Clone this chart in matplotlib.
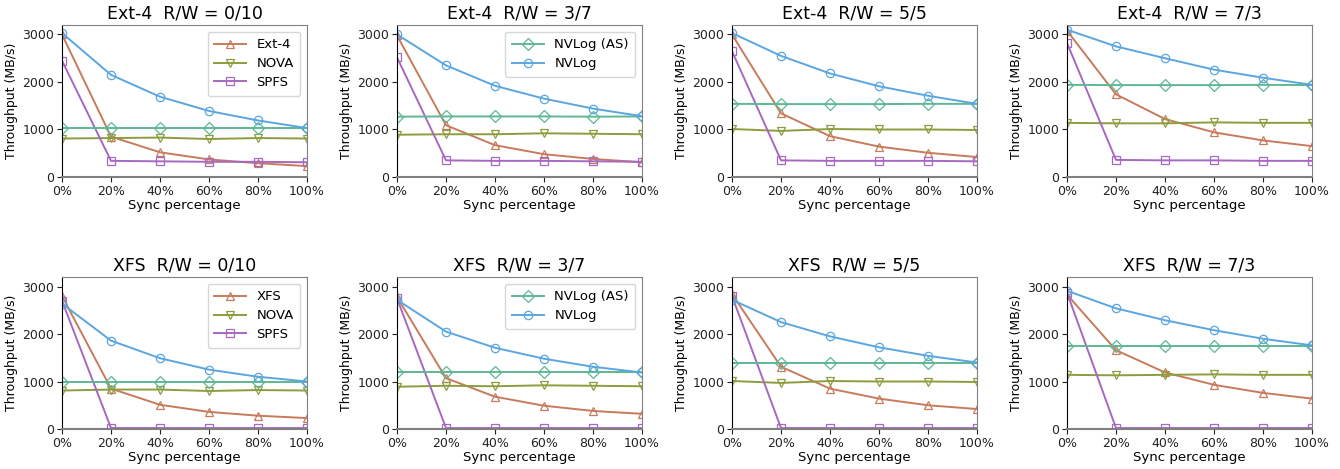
import matplotlib
matplotlib.use("Agg")
import matplotlib.pyplot as plt

sync_pct = [0, 20, 40, 60, 80, 100]
xtick_labels = ["0%", "20%", "40%", "60%", "80%", "100%"]
ratios = ["0/10", "3/7", "5/5", "7/3"]

# Ext-4 row
ext4_base = [
    [3000, 850, 520, 370, 290, 230],
    [2980, 1090, 670, 480, 380, 310],
    [3000, 1340, 860, 640, 510, 420],
    [3080, 1740, 1220, 940, 770, 650],
]
ext4_nova = [
    [810, 820, 830, 800, 820, 810],
    [890, 900, 900, 920, 910, 900],
    [1010, 970, 1010, 1000, 1000, 990],
    [1140, 1130, 1130, 1150, 1140, 1140],
]
ext4_spfs = [
    [2450, 340, 330, 320, 320, 310],
    [2520, 350, 340, 340, 330, 320],
    [2650, 350, 340, 340, 340, 330],
    [2820, 360, 350, 350, 340, 340],
]
ext4_nvlog_as = [
    [1030, 1030, 1030, 1030, 1030, 1030],
    [1270, 1275, 1275, 1275, 1270, 1275],
    [1540, 1535, 1535, 1535, 1540, 1540],
    [1940, 1935, 1935, 1935, 1940, 1935],
]
ext4_nvlog = [
    [3030, 2150, 1690, 1390, 1190, 1030],
    [3000, 2350, 1920, 1650, 1440, 1280],
    [3030, 2550, 2180, 1910, 1710, 1540],
    [3100, 2750, 2500, 2260, 2090, 1940],
]

# XFS row
xfs_base = [
    [2800, 850, 510, 360, 280, 230],
    [2780, 1070, 680, 490, 380, 320],
    [2840, 1310, 850, 640, 500, 420],
    [2830, 1660, 1190, 930, 760, 640],
]
xfs_nova = [
    [810, 830, 830, 800, 820, 810],
    [890, 910, 900, 920, 910, 900],
    [1010, 970, 1010, 1000, 1000, 990],
    [1140, 1130, 1140, 1150, 1140, 1140],
]
xfs_spfs = [
    [2700, 20, 20, 20, 20, 20],
    [2750, 20, 20, 20, 20, 20],
    [2800, 20, 20, 20, 20, 20],
    [2870, 20, 20, 20, 20, 20],
]
xfs_nvlog_as = [
    [1000, 1000, 1000, 1000, 1000, 1000],
    [1190, 1190, 1190, 1190, 1190, 1190],
    [1400, 1400, 1400, 1400, 1400, 1400],
    [1740, 1740, 1740, 1740, 1740, 1740],
]
xfs_nvlog = [
    [2640, 1860, 1490, 1250, 1100, 1000],
    [2720, 2050, 1710, 1480, 1310, 1190],
    [2720, 2250, 1950, 1720, 1540, 1400],
    [2910, 2540, 2290, 2080, 1900, 1760],
]

c_base = "#c87b5c"
c_nova = "#8c9d3e"
c_spfs = "#a668c0"
c_as = "#5db893"
c_nvlog = "#5ba6e0"

fig = plt.figure(figsize=(13.4, 4.69), dpi=100)

lefts = [62, 397, 732, 1067]
rows = [
    ("Ext-4", 25, ext4_base, ext4_nova, ext4_spfs, ext4_nvlog_as, ext4_nvlog),
    ("XFS", 277, xfs_base, xfs_nova, xfs_spfs, xfs_nvlog_as, xfs_nvlog),
]
W, H = 1340, 469
aw, ah = 245, 152

for name, top, base, nova, spfs, nas, nv in rows:
    for i, l in enumerate(lefts):
        ax = fig.add_axes([l / W, (H - top - ah) / H, aw / W, ah / H])
        kw = dict(lw=1.4, ms=6, mfc="none", mew=0.9)
        ax.plot(sync_pct, base[i], color=c_base, marker="^", label=name, **kw)
        ax.plot(sync_pct, nova[i], color=c_nova, marker="v", label="NOVA", **kw)
        ax.plot(sync_pct, spfs[i], color=c_spfs, marker="s", label="SPFS", **kw)
        ax.plot(sync_pct, nas[i], color=c_as, marker="D", label="NVLog (AS)", **kw)
        ax.plot(sync_pct, nv[i], color=c_nvlog, marker="o", label="NVLog", **kw)
        ax.set_xlim(0, 100)
        ax.set_ylim(0, 3200)
        ax.set_xticks(sync_pct)
        ax.set_xticklabels(xtick_labels)
        ax.set_yticks([0, 1000, 2000, 3000])
        ax.tick_params(labelsize=9, length=3.5, pad=2, colors="#222222")
        ax.set_xlabel("Sync percentage", fontsize=9.5, labelpad=1)
        ax.set_ylabel("Throughput (MB/s)", fontsize=9, labelpad=3)
        ax.set_title(f"{name}  R/W = {ratios[i]}", fontsize=12.5, pad=5)
        ax.spines["left"].set_color("black")
        for s in ("top", "right", "bottom"):
            ax.spines[s].set_color("#808080")
        ax.spines["bottom"].set_linewidth(1.5)
        handles, labels = ax.get_legend_handles_labels()
        if i == 0:
            ax.legend(handles[:3], labels[:3], loc="upper right", fontsize=9.5,
                      handlelength=2.4, borderpad=0.5, labelspacing=0.45)
        elif i == 1:
            ax.legend(handles[3:], labels[3:], loc="upper right", fontsize=9.5,
                      handlelength=2.4, borderpad=0.5, labelspacing=0.45)

fig.savefig("out.png", dpi=100)
